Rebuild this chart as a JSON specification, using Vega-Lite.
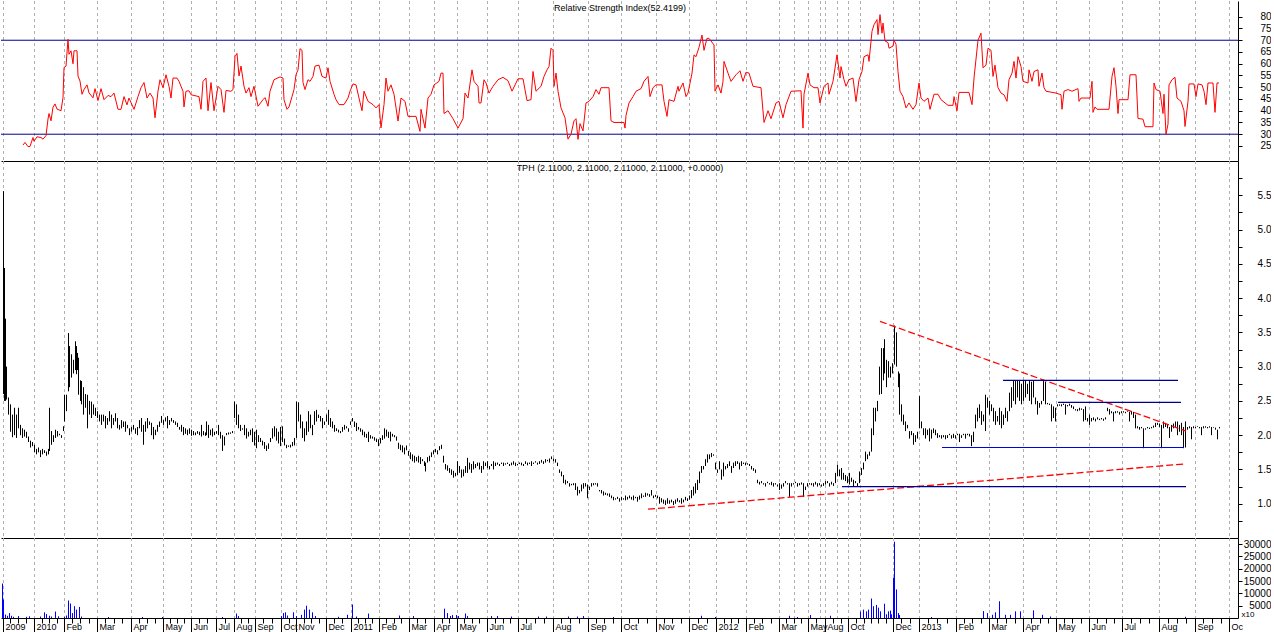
{
"$schema":"https://vega.github.io/schema/vega-lite/v6.json",
"padding":0,
"autosize":{"type":"pad"},
"background":"white",
"spacing":0,
"bounds":"flush",
"config":{"view":{"stroke":null},"font":"Liberation Sans","concat":{"spacing":0}},
"datasets":{
"titles":[{"panel":"rsi","t":619,"y":83.7,"text":"Relative Strength Index(52.4199)"},{"panel":"px","t":619,"y":5.9,"text":"TPH (2.11000, 2.11000, 2.11000, 2.11000, +0.0000)"}],
"grid":[{"t":2},{"t":33},{"t":63},{"t":96},{"t":130},{"t":162},{"t":190},{"t":215},{"t":233},{"t":254},{"t":280},{"t":295},{"t":325},{"t":350},{"t":378},{"t":408},{"t":433},{"t":456},{"t":486},{"t":517},{"t":552},{"t":587},{"t":620},{"t":655},{"t":688},{"t":715},{"t":745},{"t":778},{"t":793},{"t":807},{"t":819},{"t":824},{"t":836},{"t":847},{"t":859},{"t":892},{"t":918},{"t":955},{"t":988},{"t":1022},{"t":1055},{"t":1088},{"t":1121},{"t":1158},{"t":1194},{"t":1228}],
"lvl":[{"v":30},{"v":70}],
"ann":[{"x1":879,"y1":3.66,"x2":1185,"y2":2.06,"c":"red"},{"x1":647,"y1":0.92,"x2":1183,"y2":1.58,"c":"red"},{"x1":1002,"y1":2.8,"x2":1177,"y2":2.8,"c":"navy"},{"x1":1057,"y1":2.48,"x2":1180,"y2":2.48,"c":"navy"},{"x1":941,"y1":1.82,"x2":1183,"y2":1.82,"c":"blue"},{"x1":841,"y1":1.25,"x2":1185,"y2":1.25,"c":"navy"}],
"rsi":[{"t":22,"r":25.4},{"t":24,"r":26.5},{"t":27,"r":24.7},{"t":29,"r":24.8},{"t":32,"r":28.6},{"t":33,"r":27},{"t":36,"r":28.9},{"t":40,"r":28.6},{"t":42,"r":27.9},{"t":45,"r":29.4},{"t":47,"r":36.5},{"t":48,"r":38.8},{"t":50,"r":35.7},{"t":52,"r":41.5},{"t":54,"r":42.9},{"t":56,"r":40.7},{"t":60,"r":40},{"t":62,"r":45.6},{"t":63,"r":58.4},{"t":65,"r":59},{"t":67,"r":70.4},{"t":68,"r":64},{"t":70,"r":65.5},{"t":72,"r":60},{"t":73,"r":65.5},{"t":76,"r":65.5},{"t":77,"r":54.8},{"t":79,"r":52.6},{"t":81,"r":47},{"t":83,"r":49},{"t":86,"r":51},{"t":88,"r":47.6},{"t":92,"r":45.5},{"t":94,"r":49.4},{"t":97,"r":44.3},{"t":100,"r":49.4},{"t":103,"r":44.7},{"t":107,"r":46.5},{"t":110,"r":46},{"t":113,"r":47.5},{"t":117,"r":40.6},{"t":120,"r":40.6},{"t":123,"r":46},{"t":126,"r":42.5},{"t":128,"r":45.4},{"t":133,"r":40.6},{"t":137,"r":46},{"t":140,"r":49.8},{"t":143,"r":52},{"t":146,"r":45.4},{"t":149,"r":47.5},{"t":152,"r":45.4},{"t":154,"r":37},{"t":157,"r":48.3},{"t":159,"r":53.2},{"t":162,"r":49.8},{"t":165,"r":55.3},{"t":168,"r":50.4},{"t":170,"r":45.4},{"t":172,"r":53.9},{"t":176,"r":53.9},{"t":178,"r":52.5},{"t":182,"r":48.3},{"t":183,"r":41.6},{"t":185,"r":48.3},{"t":188,"r":48.5},{"t":190,"r":46.8},{"t":198,"r":46},{"t":200,"r":40.6},{"t":202,"r":52.5},{"t":205,"r":53.9},{"t":207,"r":40},{"t":210,"r":52},{"t":213,"r":40},{"t":217,"r":50.4},{"t":220,"r":49},{"t":223,"r":39.3},{"t":225,"r":48.6},{"t":230,"r":48.3},{"t":232,"r":49},{"t":234,"r":63},{"t":236,"r":64.4},{"t":238,"r":54.8},{"t":240,"r":59},{"t":243,"r":50.4},{"t":245,"r":47.5},{"t":248,"r":49.8},{"t":250,"r":46},{"t":253,"r":50.4},{"t":257,"r":41.9},{"t":262,"r":44.7},{"t":264,"r":45.6},{"t":267,"r":41.9},{"t":269,"r":48.3},{"t":273,"r":53.2},{"t":279,"r":54.4},{"t":282,"r":53.9},{"t":283,"r":44.7},{"t":286,"r":40.6},{"t":288,"r":41.6},{"t":291,"r":46},{"t":293,"r":49},{"t":295,"r":55.3},{"t":297,"r":57.4},{"t":299,"r":66.4},{"t":301,"r":65.7},{"t":302,"r":52},{"t":304,"r":49},{"t":307,"r":53.2},{"t":309,"r":52.5},{"t":312,"r":54.6},{"t":314,"r":59},{"t":318,"r":59.4},{"t":321,"r":54.6},{"t":325,"r":53.9},{"t":327,"r":58.3},{"t":329,"r":52.5},{"t":333,"r":47},{"t":335,"r":44.7},{"t":338,"r":42.6},{"t":343,"r":42.6},{"t":347,"r":45.4},{"t":349,"r":48.3},{"t":352,"r":51.4},{"t":355,"r":51},{"t":358,"r":45.4},{"t":361,"r":40},{"t":363,"r":48.3},{"t":367,"r":44},{"t":372,"r":42.6},{"t":375,"r":41.2},{"t":378,"r":42.6},{"t":380,"r":32.7},{"t":383,"r":42.6},{"t":385,"r":53.9},{"t":387,"r":48.3},{"t":390,"r":51},{"t":393,"r":47},{"t":397,"r":35.6},{"t":400,"r":45.4},{"t":404,"r":44},{"t":407,"r":37.6},{"t":415,"r":37.6},{"t":419,"r":31.2},{"t":420,"r":40.6},{"t":424,"r":32.6},{"t":427,"r":45.4},{"t":430,"r":47},{"t":433,"r":51},{"t":438,"r":52.5},{"t":440,"r":56},{"t":442,"r":56},{"t":443,"r":38.8},{"t":447,"r":40},{"t":452,"r":36.6},{"t":457,"r":32.6},{"t":462,"r":36.6},{"t":464,"r":47.5},{"t":467,"r":45.4},{"t":471,"r":57.4},{"t":473,"r":52.5},{"t":477,"r":50.4},{"t":478,"r":43.3},{"t":480,"r":43.3},{"t":483,"r":53.2},{"t":485,"r":51.8},{"t":488,"r":47.5},{"t":492,"r":50.4},{"t":497,"r":53.2},{"t":502,"r":54.2},{"t":507,"r":52.8},{"t":511,"r":48.3},{"t":517,"r":53.6},{"t":522,"r":53.6},{"t":526,"r":44.3},{"t":530,"r":44.7},{"t":532,"r":56.7},{"t":535,"r":48.3},{"t":540,"r":50.4},{"t":543,"r":54.6},{"t":546,"r":57.4},{"t":548,"r":58.8},{"t":550,"r":66.6},{"t":552,"r":65.7},{"t":553,"r":50.4},{"t":555,"r":56},{"t":557,"r":48.3},{"t":560,"r":41.2},{"t":564,"r":37},{"t":567,"r":27.9},{"t":570,"r":30},{"t":573,"r":35.7},{"t":575,"r":36.6},{"t":577,"r":27.8},{"t":579,"r":34.5},{"t":582,"r":31.4},{"t":585,"r":43.3},{"t":588,"r":44},{"t":592,"r":46},{"t":595,"r":49},{"t":598,"r":47},{"t":600,"r":49.8},{"t":608,"r":49.8},{"t":610,"r":35.7},{"t":613,"r":35},{"t":623,"r":35},{"t":624,"r":32.6},{"t":625,"r":38},{"t":628,"r":43.3},{"t":632,"r":46},{"t":635,"r":48.3},{"t":640,"r":49.4},{"t":643,"r":52.5},{"t":647,"r":54.6},{"t":649,"r":46},{"t":652,"r":49.8},{"t":655,"r":51},{"t":661,"r":51},{"t":663,"r":44},{"t":666,"r":37.6},{"t":668,"r":44.7},{"t":673,"r":44},{"t":677,"r":50.4},{"t":678,"r":48.3},{"t":682,"r":51.8},{"t":685,"r":46},{"t":687,"r":47.5},{"t":691,"r":56},{"t":693,"r":63.8},{"t":695,"r":63},{"t":698,"r":67},{"t":701,"r":72.2},{"t":703,"r":65.7},{"t":706,"r":70.8},{"t":708,"r":70.8},{"t":713,"r":68},{"t":714,"r":48.3},{"t":717,"r":51},{"t":720,"r":47.5},{"t":722,"r":52.5},{"t":723,"r":61},{"t":727,"r":56},{"t":730,"r":52.5},{"t":735,"r":55.3},{"t":739,"r":57},{"t":742,"r":52.5},{"t":745,"r":56.4},{"t":748,"r":56},{"t":752,"r":50.4},{"t":760,"r":49.8},{"t":763,"r":35},{"t":767,"r":40},{"t":770,"r":36.6},{"t":775,"r":43.3},{"t":778,"r":44},{"t":782,"r":37},{"t":785,"r":42.6},{"t":790,"r":48.3},{"t":800,"r":48.5},{"t":802,"r":32.6},{"t":803,"r":47},{"t":807,"r":56},{"t":809,"r":51},{"t":813,"r":49.8},{"t":817,"r":49.8},{"t":819,"r":43.3},{"t":823,"r":50.4},{"t":827,"r":51.8},{"t":828,"r":47},{"t":832,"r":52.5},{"t":836,"r":63.8},{"t":839,"r":53.9},{"t":840,"r":58.8},{"t":843,"r":53.2},{"t":845,"r":50.4},{"t":848,"r":53.2},{"t":852,"r":53.9},{"t":855,"r":43.9},{"t":858,"r":53.2},{"t":861,"r":56.7},{"t":863,"r":63},{"t":867,"r":63.8},{"t":868,"r":61},{"t":871,"r":73.8},{"t":873,"r":76.6},{"t":876,"r":78.8},{"t":877,"r":72.4},{"t":879,"r":80.9},{"t":881,"r":73},{"t":882,"r":77.3},{"t":884,"r":69.7},{"t":887,"r":69},{"t":888,"r":66.6},{"t":892,"r":67.5},{"t":893,"r":70},{"t":895,"r":68.3},{"t":897,"r":56.7},{"t":899,"r":48.3},{"t":902,"r":46},{"t":905,"r":41.2},{"t":908,"r":43.3},{"t":912,"r":40.6},{"t":915,"r":42.6},{"t":918,"r":51.8},{"t":920,"r":45.4},{"t":923,"r":44},{"t":927,"r":45.4},{"t":929,"r":40.6},{"t":933,"r":47},{"t":937,"r":47},{"t":940,"r":44.7},{"t":947,"r":42.3},{"t":952,"r":42.3},{"t":953,"r":46},{"t":956,"r":40},{"t":958,"r":47.8},{"t":968,"r":47.8},{"t":971,"r":42.6},{"t":973,"r":53.9},{"t":977,"r":70},{"t":980,"r":73},{"t":982,"r":58.3},{"t":985,"r":59.4},{"t":987,"r":66.6},{"t":990,"r":65.7},{"t":992,"r":54.6},{"t":994,"r":59.4},{"t":997,"r":49.8},{"t":1000,"r":47.5},{"t":1003,"r":46.8},{"t":1006,"r":44},{"t":1008,"r":53.2},{"t":1011,"r":56},{"t":1013,"r":61},{"t":1015,"r":53.9},{"t":1017,"r":63},{"t":1020,"r":58.8},{"t":1022,"r":52.5},{"t":1027,"r":51.8},{"t":1028,"r":57.4},{"t":1031,"r":52.5},{"t":1033,"r":56.7},{"t":1037,"r":57.4},{"t":1038,"r":50.4},{"t":1041,"r":56},{"t":1043,"r":49.8},{"t":1045,"r":48.3},{"t":1055,"r":47.5},{"t":1060,"r":46.8},{"t":1061,"r":40.6},{"t":1063,"r":48.3},{"t":1067,"r":49},{"t":1071,"r":48.3},{"t":1077,"r":49.4},{"t":1078,"r":44},{"t":1080,"r":45.4},{"t":1089,"r":45.4},{"t":1091,"r":52.5},{"t":1092,"r":39.3},{"t":1094,"r":41.6},{"t":1096,"r":40.6},{"t":1108,"r":40.6},{"t":1111,"r":54.6},{"t":1113,"r":58.3},{"t":1115,"r":50.4},{"t":1117,"r":38.8},{"t":1118,"r":44.7},{"t":1127,"r":44.7},{"t":1129,"r":55.3},{"t":1135,"r":55.3},{"t":1137,"r":36.7},{"t":1142,"r":36.4},{"t":1144,"r":33.2},{"t":1152,"r":33.2},{"t":1153,"r":51.8},{"t":1155,"r":49},{"t":1159,"r":48.3},{"t":1162,"r":38.8},{"t":1163,"r":47},{"t":1165,"r":30},{"t":1167,"r":34.3},{"t":1168,"r":51},{"t":1171,"r":53.2},{"t":1174,"r":54.2},{"t":1176,"r":45.4},{"t":1180,"r":44},{"t":1183,"r":40},{"t":1184,"r":33.3},{"t":1187,"r":44},{"t":1188,"r":51.4},{"t":1193,"r":51.4},{"t":1195,"r":46},{"t":1197,"r":51.4},{"t":1201,"r":51},{"t":1203,"r":48.3},{"t":1205,"r":42.6},{"t":1207,"r":51.8},{"t":1212,"r":51.8},{"t":1213,"r":45.4},{"t":1214,"r":39.3},{"t":1216,"r":51.8},{"t":1218,"r":51.8}],
"px":[{"t":2,"lo":2.6,"hi":5.56},{"t":3,"lo":2.5,"hi":4.44},{"t":4,"lo":2.5,"hi":3.7},{"t":5,"lo":2.52,"hi":3.0},{"t":7,"lo":2.3,"hi":2.55},{"t":9,"lo":2.05,"hi":2.45},{"t":11,"lo":1.97,"hi":2.3},{"t":13,"lo":2.0,"hi":2.4},{"t":15,"lo":1.96,"hi":2.3},{"t":17,"lo":2.1,"hi":2.4},{"t":19,"lo":2.0,"hi":2.15},{"t":21,"lo":1.96,"hi":2.1},{"t":23,"lo":1.98,"hi":2.08},{"t":25,"lo":1.96,"hi":2.05},{"t":27,"lo":1.9,"hi":1.98},{"t":29,"lo":1.82,"hi":1.92},{"t":31,"lo":1.84,"hi":1.9},{"t":33,"lo":1.75,"hi":1.86},{"t":35,"lo":1.72,"hi":1.8},{"t":37,"lo":1.75,"hi":1.82},{"t":39,"lo":1.68,"hi":1.78},{"t":41,"lo":1.72,"hi":1.8},{"t":43,"lo":1.74,"hi":1.78},{"t":45,"lo":1.7,"hi":1.76},{"t":47,"lo":1.72,"hi":1.8},{"t":48,"lo":1.77,"hi":2.4},{"t":50,"lo":1.86,"hi":2.06},{"t":52,"lo":1.9,"hi":2.0},{"t":54,"lo":1.96,"hi":2.08},{"t":56,"lo":1.98,"hi":2.06},{"t":58,"lo":2.0,"hi":2.02},{"t":60,"lo":1.96,"hi":2.0},{"t":62,"lo":2.06,"hi":2.13},{"t":63,"lo":2.2,"hi":2.59},{"t":65,"lo":2.35,"hi":2.59},{"t":67,"lo":2.64,"hi":3.49},{"t":68,"lo":2.7,"hi":3.3},{"t":70,"lo":2.84,"hi":3.18},{"t":72,"lo":2.9,"hi":3.1},{"t":74,"lo":2.95,"hi":3.37},{"t":75,"lo":2.89,"hi":3.3},{"t":76,"lo":2.95,"hi":3.2},{"t":77,"lo":2.59,"hi":3.13},{"t":79,"lo":2.5,"hi":2.8},{"t":80,"lo":2.45,"hi":2.79},{"t":82,"lo":2.3,"hi":2.7},{"t":84,"lo":2.4,"hi":2.6},{"t":86,"lo":2.1,"hi":2.59},{"t":88,"lo":2.3,"hi":2.5},{"t":90,"lo":2.25,"hi":2.49},{"t":92,"lo":2.3,"hi":2.45},{"t":94,"lo":2.28,"hi":2.4},{"t":96,"lo":2.25,"hi":2.35},{"t":98,"lo":2.2,"hi":2.3},{"t":100,"lo":2.15,"hi":2.3},{"t":102,"lo":2.2,"hi":2.3},{"t":104,"lo":2.1,"hi":2.28},{"t":106,"lo":2.15,"hi":2.25},{"t":108,"lo":2.2,"hi":2.35},{"t":110,"lo":2.1,"hi":2.3},{"t":112,"lo":2.15,"hi":2.25},{"t":114,"lo":2.2,"hi":2.32},{"t":116,"lo":2.1,"hi":2.25},{"t":118,"lo":2.08,"hi":2.15},{"t":120,"lo":2.1,"hi":2.22},{"t":122,"lo":2.12,"hi":2.2},{"t":124,"lo":2.05,"hi":2.2},{"t":126,"lo":2.1,"hi":2.15},{"t":128,"lo":2.0,"hi":2.1},{"t":130,"lo":2.05,"hi":2.12},{"t":132,"lo":2.08,"hi":2.15},{"t":134,"lo":2.02,"hi":2.1},{"t":136,"lo":2.0,"hi":2.12},{"t":138,"lo":2.1,"hi":2.22},{"t":140,"lo":2.05,"hi":2.25},{"t":142,"lo":1.86,"hi":2.15},{"t":144,"lo":2.05,"hi":2.2},{"t":146,"lo":2.1,"hi":2.25},{"t":148,"lo":2.15,"hi":2.2},{"t":150,"lo":2.0,"hi":2.18},{"t":152,"lo":1.94,"hi":2.12},{"t":154,"lo":2.0,"hi":2.08},{"t":156,"lo":2.05,"hi":2.15},{"t":158,"lo":2.12,"hi":2.2},{"t":160,"lo":2.18,"hi":2.28},{"t":162,"lo":2.15,"hi":2.22},{"t":164,"lo":2.2,"hi":2.26},{"t":166,"lo":2.1,"hi":2.28},{"t":168,"lo":2.15,"hi":2.22},{"t":170,"lo":2.2,"hi":2.25},{"t":172,"lo":2.18,"hi":2.22},{"t":174,"lo":2.15,"hi":2.2},{"t":176,"lo":2.12,"hi":2.18},{"t":178,"lo":2.08,"hi":2.12},{"t":180,"lo":2.05,"hi":2.15},{"t":182,"lo":2.0,"hi":2.12},{"t":184,"lo":2.02,"hi":2.1},{"t":186,"lo":2.0,"hi":2.08},{"t":188,"lo":2.02,"hi":2.1},{"t":190,"lo":1.99,"hi":2.08},{"t":192,"lo":2.0,"hi":2.06},{"t":194,"lo":2.0,"hi":2.04},{"t":196,"lo":2.02,"hi":2.06},{"t":198,"lo":2.0,"hi":2.05},{"t":200,"lo":1.98,"hi":2.15},{"t":202,"lo":2.0,"hi":2.06},{"t":204,"lo":1.99,"hi":2.04},{"t":205,"lo":2.0,"hi":2.2},{"t":207,"lo":1.96,"hi":2.15},{"t":209,"lo":2.0,"hi":2.08},{"t":211,"lo":1.98,"hi":2.1},{"t":213,"lo":2.0,"hi":2.05},{"t":215,"lo":2.02,"hi":2.06},{"t":217,"lo":2.0,"hi":2.15},{"t":219,"lo":1.95,"hi":2.05},{"t":221,"lo":1.77,"hi":2.0},{"t":223,"lo":1.85,"hi":1.98},{"t":225,"lo":2.0,"hi":2.03},{"t":227,"lo":2.01,"hi":2.04},{"t":229,"lo":2.02,"hi":2.04},{"t":231,"lo":2.03,"hi":2.06},{"t":233,"lo":2.25,"hi":2.49},{"t":235,"lo":2.15,"hi":2.45},{"t":237,"lo":2.1,"hi":2.3},{"t":239,"lo":2.06,"hi":2.15},{"t":241,"lo":2.08,"hi":2.1},{"t":243,"lo":2.0,"hi":2.15},{"t":245,"lo":1.95,"hi":2.1},{"t":247,"lo":1.98,"hi":2.05},{"t":249,"lo":2.0,"hi":2.08},{"t":251,"lo":1.9,"hi":2.1},{"t":253,"lo":1.85,"hi":2.05},{"t":255,"lo":1.81,"hi":2.08},{"t":257,"lo":1.9,"hi":2.0},{"t":259,"lo":1.9,"hi":1.96},{"t":261,"lo":1.85,"hi":1.92},{"t":263,"lo":1.8,"hi":1.9},{"t":265,"lo":1.77,"hi":1.85},{"t":267,"lo":1.8,"hi":1.88},{"t":269,"lo":1.9,"hi":1.96},{"t":271,"lo":1.95,"hi":2.1},{"t":273,"lo":1.98,"hi":2.13},{"t":275,"lo":1.92,"hi":2.1},{"t":277,"lo":1.88,"hi":2.05},{"t":279,"lo":1.84,"hi":2.12},{"t":281,"lo":1.9,"hi":2.13},{"t":283,"lo":1.85,"hi":1.95},{"t":285,"lo":1.81,"hi":1.86},{"t":287,"lo":1.83,"hi":1.85},{"t":289,"lo":1.82,"hi":1.86},{"t":291,"lo":1.84,"hi":1.9},{"t":293,"lo":1.85,"hi":1.96},{"t":295,"lo":1.96,"hi":2.49},{"t":297,"lo":2.2,"hi":2.48},{"t":299,"lo":2.1,"hi":2.3},{"t":301,"lo":1.96,"hi":2.2},{"t":303,"lo":1.91,"hi":2.1},{"t":305,"lo":2.0,"hi":2.2},{"t":307,"lo":2.05,"hi":2.35},{"t":309,"lo":2.1,"hi":2.3},{"t":311,"lo":2.0,"hi":2.15},{"t":313,"lo":2.15,"hi":2.35},{"t":315,"lo":2.2,"hi":2.37},{"t":317,"lo":2.25,"hi":2.3},{"t":319,"lo":2.2,"hi":2.28},{"t":321,"lo":2.1,"hi":2.25},{"t":323,"lo":2.15,"hi":2.2},{"t":325,"lo":2.2,"hi":2.3},{"t":327,"lo":2.15,"hi":2.37},{"t":329,"lo":2.12,"hi":2.25},{"t":331,"lo":2.1,"hi":2.2},{"t":333,"lo":2.05,"hi":2.15},{"t":335,"lo":2.06,"hi":2.1},{"t":337,"lo":2.04,"hi":2.08},{"t":339,"lo":2.03,"hi":2.06},{"t":341,"lo":2.05,"hi":2.12},{"t":343,"lo":2.08,"hi":2.15},{"t":345,"lo":2.1,"hi":2.13},{"t":347,"lo":2.05,"hi":2.1},{"t":349,"lo":2.15,"hi":2.2},{"t":351,"lo":2.2,"hi":2.25},{"t":353,"lo":2.12,"hi":2.2},{"t":355,"lo":2.06,"hi":2.18},{"t":357,"lo":2.08,"hi":2.12},{"t":359,"lo":2.05,"hi":2.1},{"t":361,"lo":2.0,"hi":2.08},{"t":363,"lo":1.97,"hi":2.05},{"t":365,"lo":1.96,"hi":2.02},{"t":367,"lo":1.9,"hi":2.05},{"t":369,"lo":1.95,"hi":2.0},{"t":371,"lo":1.95,"hi":1.98},{"t":373,"lo":1.92,"hi":1.97},{"t":375,"lo":1.9,"hi":1.95},{"t":377,"lo":1.84,"hi":1.94},{"t":379,"lo":1.88,"hi":1.96},{"t":381,"lo":1.93,"hi":2.0},{"t":383,"lo":1.95,"hi":2.1},{"t":385,"lo":1.98,"hi":2.08},{"t":387,"lo":1.96,"hi":2.05},{"t":389,"lo":1.91,"hi":2.05},{"t":391,"lo":1.98,"hi":2.02},{"t":393,"lo":1.97,"hi":2.0},{"t":395,"lo":1.92,"hi":1.98},{"t":397,"lo":1.8,"hi":1.89},{"t":399,"lo":1.78,"hi":1.86},{"t":401,"lo":1.75,"hi":1.85},{"t":403,"lo":1.72,"hi":1.82},{"t":405,"lo":1.78,"hi":1.85},{"t":407,"lo":1.7,"hi":1.77},{"t":409,"lo":1.65,"hi":1.75},{"t":411,"lo":1.62,"hi":1.72},{"t":413,"lo":1.6,"hi":1.7},{"t":415,"lo":1.62,"hi":1.68},{"t":417,"lo":1.6,"hi":1.7},{"t":419,"lo":1.58,"hi":1.68},{"t":421,"lo":1.62,"hi":1.65},{"t":423,"lo":1.55,"hi":1.62},{"t":424,"lo":1.47,"hi":1.6},{"t":426,"lo":1.6,"hi":1.68},{"t":428,"lo":1.62,"hi":1.7},{"t":430,"lo":1.68,"hi":1.75},{"t":432,"lo":1.72,"hi":1.78},{"t":434,"lo":1.75,"hi":1.8},{"t":436,"lo":1.72,"hi":1.78},{"t":438,"lo":1.78,"hi":1.84},{"t":440,"lo":1.8,"hi":1.86},{"t":442,"lo":1.6,"hi":1.7},{"t":444,"lo":1.5,"hi":1.58},{"t":446,"lo":1.48,"hi":1.56},{"t":448,"lo":1.45,"hi":1.52},{"t":450,"lo":1.42,"hi":1.5},{"t":452,"lo":1.38,"hi":1.48},{"t":454,"lo":1.4,"hi":1.45},{"t":456,"lo":1.42,"hi":1.62},{"t":458,"lo":1.45,"hi":1.55},{"t":460,"lo":1.38,"hi":1.5},{"t":462,"lo":1.4,"hi":1.5},{"t":464,"lo":1.45,"hi":1.55},{"t":466,"lo":1.45,"hi":1.67},{"t":468,"lo":1.5,"hi":1.6},{"t":470,"lo":1.45,"hi":1.58},{"t":472,"lo":1.5,"hi":1.62},{"t":474,"lo":1.52,"hi":1.58},{"t":476,"lo":1.55,"hi":1.6},{"t":478,"lo":1.5,"hi":1.6},{"t":480,"lo":1.45,"hi":1.55},{"t":482,"lo":1.5,"hi":1.62},{"t":484,"lo":1.55,"hi":1.6},{"t":486,"lo":1.52,"hi":1.62},{"t":488,"lo":1.5,"hi":1.55},{"t":490,"lo":1.55,"hi":1.58},{"t":492,"lo":1.5,"hi":1.62},{"t":494,"lo":1.55,"hi":1.6},{"t":496,"lo":1.57,"hi":1.6},{"t":498,"lo":1.55,"hi":1.58},{"t":500,"lo":1.58,"hi":1.6},{"t":502,"lo":1.55,"hi":1.6},{"t":504,"lo":1.57,"hi":1.59},{"t":506,"lo":1.58,"hi":1.6},{"t":508,"lo":1.55,"hi":1.58},{"t":510,"lo":1.56,"hi":1.6},{"t":512,"lo":1.57,"hi":1.62},{"t":514,"lo":1.55,"hi":1.6},{"t":516,"lo":1.56,"hi":1.58},{"t":518,"lo":1.58,"hi":1.6},{"t":520,"lo":1.56,"hi":1.6},{"t":522,"lo":1.55,"hi":1.58},{"t":524,"lo":1.58,"hi":1.62},{"t":526,"lo":1.56,"hi":1.6},{"t":528,"lo":1.58,"hi":1.6},{"t":530,"lo":1.55,"hi":1.62},{"t":532,"lo":1.58,"hi":1.6},{"t":534,"lo":1.6,"hi":1.62},{"t":536,"lo":1.57,"hi":1.6},{"t":538,"lo":1.58,"hi":1.62},{"t":540,"lo":1.6,"hi":1.64},{"t":542,"lo":1.58,"hi":1.62},{"t":544,"lo":1.6,"hi":1.65},{"t":546,"lo":1.62,"hi":1.64},{"t":548,"lo":1.6,"hi":1.66},{"t":550,"lo":1.65,"hi":1.69},{"t":552,"lo":1.62,"hi":1.66},{"t":554,"lo":1.6,"hi":1.65},{"t":556,"lo":1.55,"hi":1.6},{"t":558,"lo":1.45,"hi":1.5},{"t":560,"lo":1.4,"hi":1.47},{"t":562,"lo":1.3,"hi":1.42},{"t":564,"lo":1.28,"hi":1.35},{"t":566,"lo":1.3,"hi":1.33},{"t":568,"lo":1.25,"hi":1.3},{"t":570,"lo":1.27,"hi":1.29},{"t":572,"lo":1.27,"hi":1.3},{"t":574,"lo":1.2,"hi":1.3},{"t":576,"lo":1.12,"hi":1.25},{"t":578,"lo":1.15,"hi":1.2},{"t":580,"lo":1.18,"hi":1.28},{"t":582,"lo":1.22,"hi":1.3},{"t":584,"lo":1.25,"hi":1.3},{"t":586,"lo":1.08,"hi":1.28},{"t":588,"lo":1.2,"hi":1.25},{"t":590,"lo":1.25,"hi":1.3},{"t":592,"lo":1.27,"hi":1.3},{"t":594,"lo":1.28,"hi":1.3},{"t":596,"lo":1.25,"hi":1.3},{"t":598,"lo":1.18,"hi":1.2},{"t":600,"lo":1.15,"hi":1.2},{"t":602,"lo":1.12,"hi":1.18},{"t":604,"lo":1.13,"hi":1.16},{"t":606,"lo":1.12,"hi":1.15},{"t":608,"lo":1.1,"hi":1.15},{"t":610,"lo":1.08,"hi":1.12},{"t":612,"lo":1.05,"hi":1.1},{"t":614,"lo":1.06,"hi":1.08},{"t":616,"lo":1.07,"hi":1.1},{"t":618,"lo":1.03,"hi":1.08},{"t":620,"lo":1.05,"hi":1.1},{"t":622,"lo":1.06,"hi":1.08},{"t":624,"lo":1.05,"hi":1.12},{"t":626,"lo":1.06,"hi":1.1},{"t":628,"lo":1.08,"hi":1.12},{"t":630,"lo":1.06,"hi":1.1},{"t":632,"lo":1.05,"hi":1.12},{"t":634,"lo":1.08,"hi":1.1},{"t":636,"lo":1.03,"hi":1.1},{"t":638,"lo":1.06,"hi":1.12},{"t":640,"lo":1.08,"hi":1.15},{"t":642,"lo":1.1,"hi":1.12},{"t":644,"lo":1.1,"hi":1.16},{"t":646,"lo":1.12,"hi":1.15},{"t":648,"lo":1.1,"hi":1.14},{"t":650,"lo":1.12,"hi":1.2},{"t":652,"lo":1.08,"hi":1.12},{"t":654,"lo":1.1,"hi":1.13},{"t":656,"lo":1.08,"hi":1.12},{"t":658,"lo":1.0,"hi":1.1},{"t":660,"lo":1.02,"hi":1.08},{"t":662,"lo":1.0,"hi":1.06},{"t":664,"lo":0.98,"hi":1.05},{"t":666,"lo":1.0,"hi":1.08},{"t":668,"lo":1.0,"hi":1.05},{"t":670,"lo":1.02,"hi":1.06},{"t":672,"lo":0.98,"hi":1.04},{"t":674,"lo":1.0,"hi":1.06},{"t":676,"lo":1.03,"hi":1.08},{"t":678,"lo":1.02,"hi":1.05},{"t":680,"lo":1.0,"hi":1.08},{"t":682,"lo":1.02,"hi":1.06},{"t":684,"lo":1.05,"hi":1.1},{"t":686,"lo":1.04,"hi":1.08},{"t":688,"lo":1.06,"hi":1.12},{"t":690,"lo":1.08,"hi":1.2},{"t":692,"lo":1.12,"hi":1.25},{"t":694,"lo":1.15,"hi":1.3},{"t":696,"lo":1.2,"hi":1.35},{"t":698,"lo":1.3,"hi":1.47},{"t":700,"lo":1.45,"hi":1.55},{"t":702,"lo":1.5,"hi":1.55},{"t":704,"lo":1.55,"hi":1.65},{"t":706,"lo":1.6,"hi":1.72},{"t":708,"lo":1.65,"hi":1.72},{"t":710,"lo":1.68,"hi":1.74},{"t":712,"lo":1.7,"hi":1.72},{"t":714,"lo":1.5,"hi":1.6},{"t":716,"lo":1.45,"hi":1.5},{"t":718,"lo":1.5,"hi":1.62},{"t":720,"lo":1.35,"hi":1.5},{"t":722,"lo":1.4,"hi":1.6},{"t":724,"lo":1.5,"hi":1.55},{"t":726,"lo":1.52,"hi":1.58},{"t":728,"lo":1.55,"hi":1.62},{"t":730,"lo":1.45,"hi":1.55},{"t":732,"lo":1.52,"hi":1.6},{"t":734,"lo":1.55,"hi":1.62},{"t":736,"lo":1.58,"hi":1.62},{"t":738,"lo":1.5,"hi":1.6},{"t":740,"lo":1.55,"hi":1.62},{"t":742,"lo":1.58,"hi":1.6},{"t":744,"lo":1.56,"hi":1.6},{"t":746,"lo":1.57,"hi":1.59},{"t":748,"lo":1.55,"hi":1.58},{"t":750,"lo":1.5,"hi":1.55},{"t":752,"lo":1.48,"hi":1.52},{"t":754,"lo":1.45,"hi":1.5},{"t":756,"lo":1.3,"hi":1.35},{"t":758,"lo":1.28,"hi":1.32},{"t":760,"lo":1.3,"hi":1.33},{"t":762,"lo":1.28,"hi":1.3},{"t":764,"lo":1.25,"hi":1.3},{"t":766,"lo":1.3,"hi":1.32},{"t":768,"lo":1.28,"hi":1.3},{"t":770,"lo":1.27,"hi":1.32},{"t":772,"lo":1.25,"hi":1.3},{"t":774,"lo":1.28,"hi":1.3},{"t":776,"lo":1.25,"hi":1.28},{"t":778,"lo":1.2,"hi":1.3},{"t":780,"lo":1.22,"hi":1.28},{"t":782,"lo":1.25,"hi":1.3},{"t":784,"lo":1.3,"hi":1.33},{"t":786,"lo":1.28,"hi":1.3},{"t":788,"lo":1.1,"hi":1.3},{"t":790,"lo":1.25,"hi":1.3},{"t":792,"lo":1.28,"hi":1.3},{"t":794,"lo":1.3,"hi":1.32},{"t":796,"lo":1.25,"hi":1.3},{"t":798,"lo":1.27,"hi":1.3},{"t":800,"lo":1.28,"hi":1.31},{"t":802,"lo":1.1,"hi":1.3},{"t":804,"lo":1.2,"hi":1.25},{"t":806,"lo":1.25,"hi":1.3},{"t":808,"lo":1.28,"hi":1.3},{"t":810,"lo":1.27,"hi":1.3},{"t":812,"lo":1.25,"hi":1.3},{"t":814,"lo":1.28,"hi":1.32},{"t":816,"lo":1.25,"hi":1.3},{"t":818,"lo":1.27,"hi":1.3},{"t":820,"lo":1.25,"hi":1.28},{"t":822,"lo":1.26,"hi":1.3},{"t":824,"lo":1.28,"hi":1.33},{"t":826,"lo":1.3,"hi":1.33},{"t":828,"lo":1.25,"hi":1.3},{"t":830,"lo":1.28,"hi":1.32},{"t":832,"lo":1.26,"hi":1.3},{"t":834,"lo":1.3,"hi":1.45},{"t":836,"lo":1.4,"hi":1.57},{"t":838,"lo":1.4,"hi":1.5},{"t":840,"lo":1.35,"hi":1.52},{"t":842,"lo":1.35,"hi":1.45},{"t":844,"lo":1.33,"hi":1.42},{"t":846,"lo":1.3,"hi":1.4},{"t":848,"lo":1.28,"hi":1.45},{"t":850,"lo":1.32,"hi":1.38},{"t":852,"lo":1.25,"hi":1.35},{"t":854,"lo":1.3,"hi":1.33},{"t":856,"lo":1.25,"hi":1.3},{"t":858,"lo":1.3,"hi":1.47},{"t":860,"lo":1.42,"hi":1.52},{"t":862,"lo":1.5,"hi":1.6},{"t":864,"lo":1.62,"hi":1.76},{"t":866,"lo":1.65,"hi":1.72},{"t":868,"lo":1.7,"hi":1.76},{"t":870,"lo":1.76,"hi":2.1},{"t":872,"lo":2.0,"hi":2.4},{"t":874,"lo":2.2,"hi":2.4},{"t":876,"lo":2.35,"hi":2.5},{"t":878,"lo":2.59,"hi":3.0},{"t":880,"lo":2.6,"hi":3.27},{"t":882,"lo":2.8,"hi":3.27},{"t":883,"lo":2.9,"hi":3.4},{"t":885,"lo":2.7,"hi":3.1},{"t":887,"lo":2.84,"hi":3.08},{"t":889,"lo":2.84,"hi":3.0},{"t":891,"lo":2.9,"hi":3.05},{"t":893,"lo":3.03,"hi":3.6},{"t":895,"lo":3.0,"hi":3.5},{"t":897,"lo":2.7,"hi":2.93},{"t":898,"lo":2.3,"hi":2.9},{"t":900,"lo":2.2,"hi":2.45},{"t":902,"lo":2.15,"hi":2.3},{"t":904,"lo":2.06,"hi":2.2},{"t":906,"lo":2.1,"hi":2.15},{"t":908,"lo":1.95,"hi":2.06},{"t":910,"lo":2.0,"hi":2.06},{"t":912,"lo":1.86,"hi":2.03},{"t":914,"lo":1.9,"hi":2.0},{"t":916,"lo":1.95,"hi":2.05},{"t":918,"lo":2.1,"hi":2.57},{"t":920,"lo":2.1,"hi":2.2},{"t":922,"lo":2.0,"hi":2.1},{"t":924,"lo":1.95,"hi":2.1},{"t":926,"lo":2.0,"hi":2.08},{"t":928,"lo":1.91,"hi":2.1},{"t":930,"lo":1.95,"hi":2.08},{"t":932,"lo":2.03,"hi":2.1},{"t":934,"lo":2.0,"hi":2.08},{"t":936,"lo":1.96,"hi":2.03},{"t":938,"lo":1.97,"hi":2.0},{"t":940,"lo":1.95,"hi":2.0},{"t":942,"lo":1.97,"hi":2.0},{"t":944,"lo":1.94,"hi":2.0},{"t":946,"lo":1.96,"hi":2.0},{"t":948,"lo":2.0,"hi":2.02},{"t":950,"lo":1.95,"hi":2.0},{"t":952,"lo":1.96,"hi":2.02},{"t":954,"lo":1.95,"hi":2.0},{"t":956,"lo":2.0,"hi":2.02},{"t":958,"lo":1.9,"hi":2.02},{"t":960,"lo":1.96,"hi":2.0},{"t":962,"lo":2.0,"hi":2.02},{"t":964,"lo":1.95,"hi":2.02},{"t":966,"lo":2.0,"hi":2.02},{"t":968,"lo":1.98,"hi":2.02},{"t":970,"lo":1.84,"hi":2.0},{"t":972,"lo":1.9,"hi":2.05},{"t":974,"lo":2.1,"hi":2.3},{"t":976,"lo":2.2,"hi":2.4},{"t":978,"lo":2.25,"hi":2.45},{"t":980,"lo":2.15,"hi":2.35},{"t":982,"lo":2.2,"hi":2.3},{"t":984,"lo":2.06,"hi":2.59},{"t":986,"lo":2.4,"hi":2.55},{"t":988,"lo":2.3,"hi":2.5},{"t":990,"lo":2.35,"hi":2.45},{"t":992,"lo":2.2,"hi":2.4},{"t":994,"lo":2.15,"hi":2.35},{"t":996,"lo":2.2,"hi":2.28},{"t":998,"lo":2.15,"hi":2.4},{"t":1000,"lo":2.1,"hi":2.35},{"t":1002,"lo":2.15,"hi":2.3},{"t":1004,"lo":2.25,"hi":2.4},{"t":1006,"lo":2.2,"hi":2.35},{"t":1008,"lo":2.35,"hi":2.62},{"t":1010,"lo":2.4,"hi":2.7},{"t":1012,"lo":2.5,"hi":2.79},{"t":1014,"lo":2.45,"hi":2.8},{"t":1016,"lo":2.55,"hi":2.79},{"t":1018,"lo":2.5,"hi":2.8},{"t":1020,"lo":2.45,"hi":2.75},{"t":1022,"lo":2.5,"hi":2.8},{"t":1024,"lo":2.55,"hi":2.8},{"t":1026,"lo":2.6,"hi":2.75},{"t":1028,"lo":2.5,"hi":2.8},{"t":1030,"lo":2.45,"hi":2.78},{"t":1032,"lo":2.55,"hi":2.8},{"t":1034,"lo":2.45,"hi":2.55},{"t":1036,"lo":2.3,"hi":2.5},{"t":1038,"lo":2.4,"hi":2.47},{"t":1040,"lo":2.45,"hi":2.5},{"t":1042,"lo":2.5,"hi":2.79},{"t":1044,"lo":2.45,"hi":2.78},{"t":1046,"lo":2.45,"hi":2.47},{"t":1048,"lo":2.44,"hi":2.46},{"t":1050,"lo":2.2,"hi":2.45},{"t":1052,"lo":2.25,"hi":2.42},{"t":1054,"lo":2.2,"hi":2.4},{"t":1056,"lo":2.42,"hi":2.45},{"t":1058,"lo":2.43,"hi":2.45},{"t":1060,"lo":2.42,"hi":2.45},{"t":1062,"lo":2.44,"hi":2.46},{"t":1064,"lo":2.3,"hi":2.45},{"t":1066,"lo":2.42,"hi":2.44},{"t":1068,"lo":2.43,"hi":2.46},{"t":1070,"lo":2.4,"hi":2.44},{"t":1072,"lo":2.38,"hi":2.42},{"t":1074,"lo":2.36,"hi":2.38},{"t":1076,"lo":2.35,"hi":2.38},{"t":1078,"lo":2.36,"hi":2.4},{"t":1080,"lo":2.37,"hi":2.39},{"t":1082,"lo":2.2,"hi":2.38},{"t":1084,"lo":2.22,"hi":2.42},{"t":1086,"lo":2.2,"hi":2.25},{"t":1088,"lo":2.15,"hi":2.3},{"t":1090,"lo":2.2,"hi":2.25},{"t":1092,"lo":2.22,"hi":2.26},{"t":1094,"lo":2.2,"hi":2.24},{"t":1096,"lo":2.23,"hi":2.26},{"t":1098,"lo":2.22,"hi":2.24},{"t":1100,"lo":2.23,"hi":2.25},{"t":1102,"lo":2.21,"hi":2.24},{"t":1104,"lo":2.23,"hi":2.26},{"t":1106,"lo":2.35,"hi":2.4},{"t":1108,"lo":2.3,"hi":2.38},{"t":1110,"lo":2.32,"hi":2.35},{"t":1112,"lo":2.2,"hi":2.34},{"t":1114,"lo":2.32,"hi":2.35},{"t":1116,"lo":2.33,"hi":2.35},{"t":1118,"lo":2.3,"hi":2.34},{"t":1120,"lo":2.32,"hi":2.35},{"t":1122,"lo":2.33,"hi":2.35},{"t":1124,"lo":2.32,"hi":2.34},{"t":1126,"lo":2.34,"hi":2.35},{"t":1128,"lo":2.2,"hi":2.34},{"t":1130,"lo":2.3,"hi":2.35},{"t":1132,"lo":2.25,"hi":2.34},{"t":1134,"lo":2.1,"hi":2.3},{"t":1136,"lo":2.1,"hi":2.13},{"t":1138,"lo":2.08,"hi":2.12},{"t":1140,"lo":2.1,"hi":2.12},{"t":1142,"lo":1.81,"hi":2.1},{"t":1144,"lo":2.08,"hi":2.1},{"t":1146,"lo":2.1,"hi":2.12},{"t":1148,"lo":2.09,"hi":2.11},{"t":1150,"lo":2.1,"hi":2.12},{"t":1152,"lo":2.11,"hi":2.14},{"t":1154,"lo":2.12,"hi":2.18},{"t":1156,"lo":2.15,"hi":2.18},{"t":1158,"lo":2.12,"hi":2.17},{"t":1160,"lo":1.81,"hi":2.15},{"t":1162,"lo":2.1,"hi":2.2},{"t":1164,"lo":2.12,"hi":2.18},{"t":1166,"lo":2.1,"hi":2.15},{"t":1168,"lo":1.96,"hi":2.12},{"t":1170,"lo":2.05,"hi":2.15},{"t":1172,"lo":2.1,"hi":2.17},{"t":1174,"lo":2.12,"hi":2.2},{"t":1176,"lo":2.0,"hi":2.2},{"t":1178,"lo":2.05,"hi":2.15},{"t":1180,"lo":2.0,"hi":2.18},{"t":1182,"lo":1.81,"hi":2.12},{"t":1184,"lo":1.82,"hi":2.2},{"t":1186,"lo":2.08,"hi":2.12},{"t":1188,"lo":2.1,"hi":2.13},{"t":1190,"lo":1.94,"hi":2.12},{"t":1192,"lo":2.1,"hi":2.13},{"t":1194,"lo":2.1,"hi":2.12},{"t":1196,"lo":2.12,"hi":2.13},{"t":1198,"lo":2.1,"hi":2.12},{"t":1200,"lo":2.0,"hi":2.12},{"t":1202,"lo":2.1,"hi":2.13},{"t":1204,"lo":2.11,"hi":2.13},{"t":1206,"lo":2.1,"hi":2.12},{"t":1208,"lo":2.11,"hi":2.13},{"t":1210,"lo":2.0,"hi":2.12},{"t":1212,"lo":2.11,"hi":2.12},{"t":1214,"lo":2.08,"hi":2.11},{"t":1216,"lo":1.94,"hi":2.08},{"t":1218,"lo":2.1,"hi":2.12}],
"vol":[{"t":1,"v":14000},{"t":2,"v":7500},{"t":4,"v":1400},{"t":6,"v":900},{"t":8,"v":2000},{"t":10,"v":900},{"t":12,"v":500},{"t":17,"v":800},{"t":25,"v":500},{"t":28,"v":700},{"t":39,"v":600},{"t":43,"v":2300},{"t":45,"v":1600},{"t":48,"v":900},{"t":50,"v":600},{"t":54,"v":2600},{"t":57,"v":700},{"t":63,"v":500},{"t":65,"v":1000},{"t":67,"v":7100},{"t":69,"v":5900},{"t":71,"v":2000},{"t":73,"v":4800},{"t":75,"v":3400},{"t":78,"v":4500},{"t":80,"v":600},{"t":107,"v":400},{"t":141,"v":400},{"t":161,"v":400},{"t":221,"v":400},{"t":235,"v":1800},{"t":237,"v":800},{"t":280,"v":800},{"t":282,"v":2000},{"t":284,"v":2300},{"t":286,"v":1000},{"t":292,"v":2300},{"t":295,"v":800},{"t":300,"v":1300},{"t":303,"v":3400},{"t":305,"v":5000},{"t":308,"v":3400},{"t":311,"v":2300},{"t":314,"v":800},{"t":337,"v":500},{"t":346,"v":1300},{"t":351,"v":5500},{"t":355,"v":600},{"t":367,"v":1800},{"t":398,"v":1000},{"t":412,"v":800},{"t":443,"v":3800},{"t":446,"v":2000},{"t":449,"v":800},{"t":451,"v":1200},{"t":455,"v":1200},{"t":457,"v":800},{"t":464,"v":1800},{"t":466,"v":800},{"t":490,"v":800},{"t":496,"v":800},{"t":510,"v":600},{"t":537,"v":600},{"t":545,"v":600},{"t":567,"v":600},{"t":576,"v":600},{"t":582,"v":800},{"t":612,"v":400},{"t":700,"v":900},{"t":714,"v":400},{"t":788,"v":900},{"t":796,"v":400},{"t":809,"v":1200},{"t":829,"v":900},{"t":859,"v":2600},{"t":862,"v":3400},{"t":865,"v":2700},{"t":867,"v":3400},{"t":870,"v":7900},{"t":872,"v":4800},{"t":875,"v":5300},{"t":877,"v":4200},{"t":879,"v":2700},{"t":883,"v":5800},{"t":885,"v":1500},{"t":887,"v":2700},{"t":889,"v":3000},{"t":890,"v":1500},{"t":892,"v":16400},{"t":893,"v":31000},{"t":895,"v":11600},{"t":897,"v":2000},{"t":898,"v":1200},{"t":930,"v":400},{"t":982,"v":2800},{"t":986,"v":2000},{"t":991,"v":1300},{"t":994,"v":2300},{"t":998,"v":6800},{"t":1004,"v":1300},{"t":1009,"v":1300},{"t":1014,"v":2700},{"t":1019,"v":2700},{"t":1032,"v":3100},{"t":1041,"v":1300},{"t":1049,"v":600},{"t":1184,"v":500}]
},
"vconcat":[
{
"width":1237,"height":160,
"layer":[
{"data":{"name":"grid"},"mark":{"type":"rule","color":"#b0b0b0","strokeDash":[3,3],"strokeWidth":1,"xOffset":0.5},
"encoding":{"x":{"field":"t","type":"quantitative","scale":{"domain":[0,1237],"nice":false,"zero":false},"axis":{"orient":"bottom","labels":false,"ticks":false,"grid":false,"domain":true,"domainColor":"#000","title":null,"minExtent":0,"maxExtent":0,"tickSize":0,"labelPadding":0,"offset":0}}}},
{"data":{"name":"lvl"},"mark":{"type":"rule","color":"#000090","strokeWidth":1},
"encoding":{"y":{"field":"v","type":"quantitative","scale":{"domain":[18.6,86.7],"nice":false,"zero":false},"axis":{"orient":"right","title":null,"grid":false,"values":[25,30,35,40,45,50,55,60,65,70,75,80],"tickCount":1000,"labelExpr":"format(datum.value,'d')","domainColor":"#000","tickColor":"#000","tickSize":4,"labelAlign":"right","labelPadding":29,"labelFontSize":10,"labelColor":"#000","labelFont":"Liberation Sans","labelBaseline":"middle","labelOverlap":false,"labelFlush":false}}}},
{"data":{"name":"rsi"},"mark":{"type":"line","color":"#ff0000","strokeWidth":1,"strokeMiterLimit":2},
"encoding":{"x":{"field":"t","type":"quantitative","axis":{"title":null}},"y":{"field":"r","type":"quantitative","axis":{"title":null}}}},
{"data":{"name":"titles"},"transform":[{"filter":"datum.panel=='rsi'"}],"mark":{"type":"text","fontSize":9,"font":"Liberation Sans","color":"#000","align":"center","baseline":"middle"},
"encoding":{"x":{"field":"t","type":"quantitative","axis":{"title":null}},"y":{"field":"y","type":"quantitative","axis":{"title":null}},"text":{"field":"text"}}}
]
},
{
"width":1237,"height":377,
"layer":[
{"data":{"name":"grid"},"mark":{"type":"rule","color":"#b0b0b0","strokeDash":[3,3],"strokeWidth":1,"xOffset":0.5},
"encoding":{"x":{"field":"t","type":"quantitative","scale":{"domain":[0,1237],"nice":false,"zero":false},"axis":{"orient":"bottom","labels":false,"ticks":false,"grid":false,"domain":true,"domainColor":"#000","title":null,"minExtent":0,"maxExtent":0,"tickSize":0,"labelPadding":0,"offset":0}}}},
{"data":{"name":"px"},"mark":{"type":"rule","color":"#000","strokeWidth":1,"xOffset":0.5},
"encoding":{"x":{"field":"t","type":"quantitative","axis":{"title":null}},
"y":{"field":"lo","type":"quantitative","scale":{"domain":[0.5,6.0],"nice":false,"zero":false},"axis":{"orient":"right","title":null,"grid":false,"values":[0.75,1,1.25,1.5,1.75,2,2.25,2.5,2.75,3,3.25,3.5,3.75,4,4.25,4.5,4.75,5,5.25,5.5,5.75],"tickCount":1000,"labelExpr":"(datum.value*2)%1==0 ? format(datum.value,'.1f') : ''","domainColor":"#000","tickColor":"#000","tickSize":4,"labelAlign":"right","labelPadding":29,"labelFontSize":10,"labelColor":"#000","labelFont":"Liberation Sans","labelBaseline":"middle","labelOverlap":false,"labelFlush":false}},
"y2":{"field":"hi"}}},
{"data":{"name":"ann"},"transform":[{"filter":"datum.c=='red'"}],"mark":{"type":"rule","color":"#ff0000","strokeWidth":1.3,"strokeDash":[7,3]},
"encoding":{"x":{"field":"x1","type":"quantitative","axis":{"title":null}},"x2":{"field":"x2"},"y":{"field":"y1","type":"quantitative","axis":{"title":null}},"y2":{"field":"y2"}}},
{"data":{"name":"ann"},"transform":[{"filter":"datum.c!='red'"}],"mark":{"type":"rule","strokeWidth":1.2},
"encoding":{"x":{"field":"x1","type":"quantitative","axis":{"title":null}},"x2":{"field":"x2"},"y":{"field":"y1","type":"quantitative","axis":{"title":null}},"y2":{"field":"y2"},
"color":{"field":"c","type":"nominal","scale":{"domain":["navy","blue"],"range":["#000090","#0000e0"]},"legend":null}}},
{"data":{"name":"titles"},"transform":[{"filter":"datum.panel=='px'"}],"mark":{"type":"text","fontSize":9,"font":"Liberation Sans","color":"#000","align":"center","baseline":"middle"},
"encoding":{"x":{"field":"t","type":"quantitative","axis":{"title":null}},"y":{"field":"y","type":"quantitative","axis":{"title":null}},"text":{"field":"text"}}}
]
},
{
"width":1237,"height":80,
"layer":[
{"data":{"name":"grid"},"mark":{"type":"rule","color":"#b0b0b0","strokeDash":[3,3],"strokeWidth":1,"xOffset":0.5},
"encoding":{"x":{"field":"t","type":"quantitative","scale":{"domain":[0,1237],"nice":false,"zero":false},
"axis":{"orient":"bottom","title":null,"grid":false,"domain":true,"domainColor":"#000","tickColor":"#000","tickCount":1000,
"values":[2,33,63,96,130,162,190,215,233,254,280,295,325,350,378,408,433,456,486,517,552,587,620,655,688,715,745,778,807,824,847,892,918,955,988,1022,1055,1088,1121,1158,1194,1228,9,17,25,41,48,56,71,79,88,104,113,121,138,146,154,169,176,183,198,206,224,240,247,262,271,288,303,310,318,333,341,357,364,371,385,393,400,416,424,441,448,463,471,478,494,502,509,525,534,543,560,569,578,595,603,612,628,637,646,663,671,680,697,706,723,730,737,753,761,770,785,793,800,815,832,840,855,863,870,877,885,900,909,927,936,946,963,971,980,996,1005,1014,1030,1039,1047,1063,1071,1080,1096,1105,1113,1130,1139,1148,1167,1176,1185,1202,1211,1220],
"tickSize":{"condition":{"test":"indexof([2,33,63,96,130,162,190,215,233,254,280,295,325,350,378,408,433,456,486,517,552,587,620,655,688,715,745,778,807,824,847,892,918,955,988,1022,1055,1088,1121,1158,1194,1228], datum.value) >= 0","value":14},"value":5},
"labelExpr":"indexof([2,33,63,96,130,162,190,215,233,254,280,295,325,350,378,408,433,456,486,517,552,587,620,655,688,715,745,778,807,824,847,892,918,955,988,1022,1055,1088,1121,1158,1194,1228], datum.value) >= 0 ? ['2009','2010','Feb','Mar','Apr','May','Jun','Jul','Aug','Sep','Oct','Nov','Dec','2011','Feb','Mar','Apr','May','Jun','Jul','Aug','Sep','Oct','Nov','Dec','2012','Feb','Mar','May','Aug','Oct','Dec','2013','Feb','Mar','Apr','May','Jun','Jul','Aug','Sep','Oc'][indexof([2,33,63,96,130,162,190,215,233,254,280,295,325,350,378,408,433,456,486,517,552,587,620,655,688,715,745,778,807,824,847,892,918,955,988,1022,1055,1088,1121,1158,1194,1228], datum.value)] : ''",
"labelAlign":"left","labelOffset":2,"labelPadding":-10,"labelBaseline":"top","labelFontSize":9,"labelColor":"#000","labelFont":"Liberation Sans","labelOverlap":false,"labelFlush":false,"labelBound":false}}}},
{"data":{"name":"vol"},"mark":{"type":"rule","color":"#0000ff","strokeWidth":1,"xOffset":0.5},
"encoding":{"x":{"field":"t","type":"quantitative","axis":{"title":null}},
"y":{"field":"v","type":"quantitative","scale":{"domain":[0,32500],"nice":false,"zero":true},"axis":{"orient":"right","title":"x10","titleAngle":0,"titleX":3,"titleY":80,"titleAlign":"left","titleBaseline":"bottom","titleFontSize":8,"titleFontWeight":"normal","titleFont":"Liberation Sans","titleColor":"#000","grid":false,"values":[5000,10000,15000,20000,25000,30000],"tickCount":1000,"format":"d","domainColor":"#000","tickColor":"#000","tickSize":4,"labelAlign":"right","labelPadding":29,"labelFontSize":10,"labelColor":"#000","labelFont":"Liberation Sans","labelBaseline":"middle","labelOverlap":false,"labelFlush":false}},
"y2":{"datum":0}}}
]
}
]
}
